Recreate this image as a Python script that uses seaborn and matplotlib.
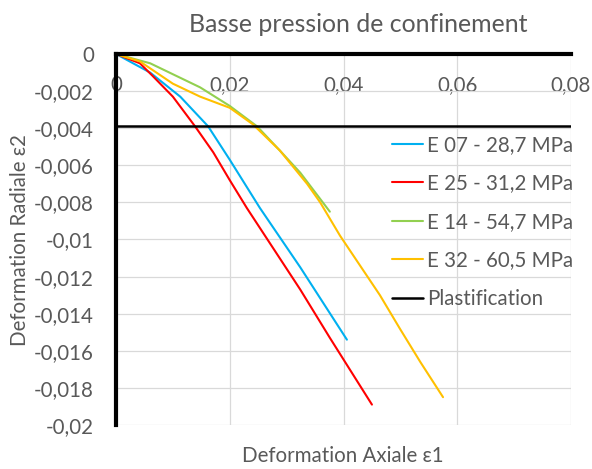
import numpy as np
import pandas as pd
import matplotlib
matplotlib.use("Agg")
import matplotlib.pyplot as plt
import seaborn as sns

# ---- data ----
blue_x = [0, 0.0030, 0.0060, 0.0113, 0.0162, 0.0200, 0.0253, 0.0324, 0.0406]
blue_y = [0, -0.0005, -0.0010, -0.0023, -0.0039, -0.0057, -0.0083, -0.0115, -0.0154]
red_x = [0, 0.0042, 0.0065, 0.0100, 0.0139, 0.0171, 0.0200, 0.0230, 0.0324, 0.0376, 0.0450]
red_y = [0, -0.0005, -0.0012, -0.0023, -0.0039, -0.0053, -0.0068, -0.0083, -0.0127, -0.0153, -0.0189]
green_x = [0, 0.0060, 0.0148, 0.0200, 0.0248, 0.0288, 0.0324, 0.0376]
green_y = [0, -0.0005, -0.0018, -0.0028, -0.0039, -0.0052, -0.0064, -0.0085]
yellow_x = [0, 0.0042, 0.0100, 0.0148, 0.0200, 0.0241, 0.0288, 0.0336, 0.0359, 0.0394, 0.0429, 0.0464, 0.0499, 0.0535, 0.0575]
yellow_y = [0, -0.0004, -0.0016, -0.0023, -0.0029, -0.0038, -0.0052, -0.0070, -0.0080, -0.0098, -0.0114, -0.0130, -0.0148, -0.0166, -0.0185]
series_names = ["E 07 - 28,7 MPa", "E 25 - 31,2 MPa", "E 14 - 54,7 MPa", "E 32 - 60,5 MPa"]
plastification_y = -0.0039
x_ticks = [0, 0.02, 0.04, 0.06, 0.08]
x_tick_labels = ["0", "0,02", "0,04", "0,06", "0,08"]
y_ticks = [0, -0.002, -0.004, -0.006, -0.008, -0.01, -0.012, -0.014, -0.016, -0.018, -0.02]
y_tick_labels = ["0", "-0,002", "-0,004", "-0,006", "-0,008", "-0,01", "-0,012", "-0,014", "-0,016", "-0,018", "-0,02"]

colors = ["#00B0F0", "#FF0000", "#92D050", "#FFC000"]

frames = []
for name, xs, ys in zip(series_names, [blue_x, red_x, green_x, yellow_x], [blue_y, red_y, green_y, yellow_y]):
    frames.append(pd.DataFrame({"x": xs, "y": ys, "serie": name}))
df = pd.concat(frames, ignore_index=True)

sns.set_theme(style="white")
plt.rcParams['font.family'] = ['Lato', 'DejaVu Sans']
txt = "#595959"
fs = 14.8

fig = plt.figure(figsize=(5.92, 4.69), dpi=100)
ax = fig.add_axes([116/592, 1-425/469, (571-116)/592, (425-54)/469])

sns.lineplot(data=df, x="x", y="y", hue="serie", palette=colors, sort=False,
             estimator=None, units="serie", linewidth=1.5, ax=ax, hue_order=series_names)
ax.axhline(plastification_y, color="black", linewidth=1.8, label="Plastification")

ax.set_xlim(0, 0.08)
ax.set_ylim(-0.02, 0)
ax.set_xticks(x_ticks)
ax.set_xticklabels(x_tick_labels)
ax.set_yticks(y_ticks)
ax.set_yticklabels(y_tick_labels)
ax.grid(True, color="#d9d9d9", linewidth=0.9)
ax.set_axisbelow(True)

for s in ["top", "right"]:
    ax.spines[s].set_visible(False)
ax.spines["bottom"].set_position(("data", 0))
ax.spines["bottom"].set_linewidth(3)
ax.spines["bottom"].set_color("black")
ax.spines["left"].set_linewidth(3)
ax.spines["left"].set_color("black")
ax.spines["left"].set_zorder(3)
ax.spines["bottom"].set_zorder(3)

ax.tick_params(axis="x", length=0, pad=15, labelsize=fs, labelcolor=txt)
ax.tick_params(axis="y", length=0, pad=16, labelsize=fs, labelcolor=txt)

ax.set_xlabel("")
ax.set_ylabel("")
fig.text(343/592, 1-456/469, "Deformation Axiale ε1", ha="center", va="center", fontsize=fs, color=txt)
fig.text(20/592, 1-240/469, "Deformation Radiale ε2", ha="center", va="center", rotation=90, fontsize=fs, color=txt)
fig.text(358/592, 1-24/469, "Basse pression de confinement", ha="center", va="center", fontsize=17.9, color=txt)

handles, labels = ax.get_legend_handles_labels()
leg = ax.legend(handles, labels, loc="center left", bbox_to_anchor=(392/592, 1-222/469),
                bbox_transform=fig.transFigure, frameon=False, fontsize=fs,
                handlelength=1.5, handletextpad=0.2, labelspacing=0.9, borderpad=0, borderaxespad=0)
for t in leg.get_texts():
    t.set_color(txt)

fig.savefig("out.png", dpi=100)
